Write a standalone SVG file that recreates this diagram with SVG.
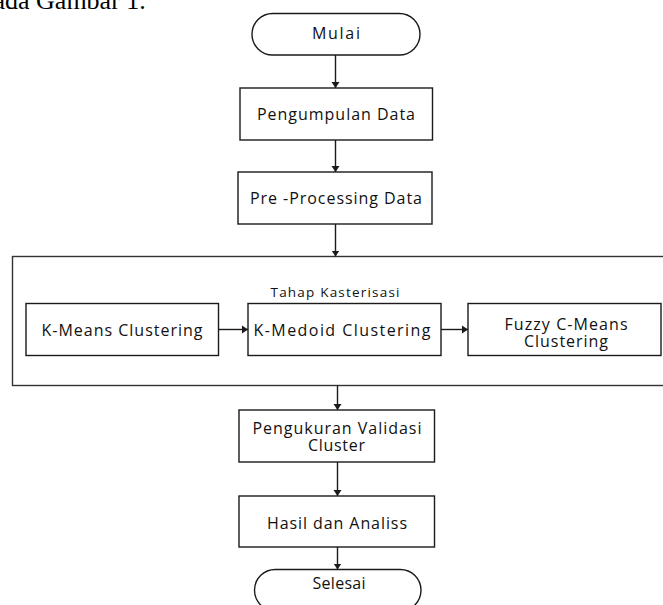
<svg xmlns="http://www.w3.org/2000/svg" width="663" height="605" viewBox="0 0 663 605">
  <style>
    .box { fill: #ffffff; stroke: #1a1a1a; stroke-width: 1.4; }
    .cont { fill: none; stroke: #333333; stroke-width: 1.4; }
    .lbl { font-family: "Open Sans", "Liberation Sans", sans-serif; font-size: 16px; fill: #111111; text-anchor: middle; }
    .small { font-size: 13.5px; }
    .conn { stroke: #1a1a1a; stroke-width: 1.4; fill: none; marker-end: url(#arr); }
    .top { font-family: "Liberation Serif", "Times New Roman", serif; font-size: 26px; fill: #000000; }
  </style>
  <defs>
    <marker id="arr" markerUnits="userSpaceOnUse" markerWidth="7" markerHeight="9" refX="6" refY="4" orient="auto" viewBox="0 0 7 8">
      <path d="M0,0 L6,4 L0,8 z" fill="#1a1a1a"/>
    </marker>
  </defs>
  <rect width="663" height="605" fill="#ffffff"/>
  <text class="top" x="-6.5" y="8.5">ada Gambar 1.</text>

  <g id="container">
    <rect class="cont" x="12.5" y="256.5" width="700" height="129"/>
    <text class="lbl small" x="335" y="296.5" textLength="129" lengthAdjust="spacing">Tahap Kasterisasi</text>
  </g>

  <g id="mulai">
    <rect class="box" x="252" y="13.5" width="168" height="41.5" rx="20.75"/>
    <text class="lbl" x="336" y="39" textLength="48" lengthAdjust="spacing">Mulai</text>
  </g>
  <g id="pengumpulan">
    <rect class="box" x="240" y="88" width="192.5" height="52"/>
    <text class="lbl" x="336" y="119.5" textLength="158" lengthAdjust="spacing">Pengumpulan Data</text>
  </g>
  <g id="preprocessing">
    <rect class="box" x="238" y="172" width="194" height="52"/>
    <text class="lbl" x="336" y="203.5" textLength="172" lengthAdjust="spacing">Pre -Processing Data</text>
  </g>
  <g id="kmeans">
    <rect class="box" x="26" y="303.5" width="192.5" height="52"/>
    <text class="lbl" x="122" y="335.5" textLength="161" lengthAdjust="spacing">K-Means Clustering</text>
  </g>
  <g id="kmedoid">
    <rect class="box" x="248" y="303.5" width="193" height="52"/>
    <text class="lbl" x="342" y="335.5" textLength="177" lengthAdjust="spacing">K-Medoid Clustering</text>
  </g>
  <g id="fuzzy">
    <rect class="box" x="468" y="303.5" width="193" height="52"/>
    <text class="lbl" x="566" y="329.5" textLength="123" lengthAdjust="spacing">Fuzzy C-Means</text>
    <text class="lbl" x="566" y="347" textLength="84" lengthAdjust="spacing">Clustering</text>
  </g>
  <g id="pengukuran">
    <rect class="box" x="239" y="410" width="195.5" height="52"/>
    <text class="lbl" x="337" y="433.5" textLength="169" lengthAdjust="spacing">Pengukuran Validasi</text>
    <text class="lbl" x="336.5" y="451" textLength="57" lengthAdjust="spacing">Cluster</text>
  </g>
  <g id="hasil">
    <rect class="box" x="239" y="496" width="195.5" height="51"/>
    <text class="lbl" x="337" y="529" textLength="140" lengthAdjust="spacing">Hasil dan Analiss</text>
  </g>
  <g id="selesai">
    <rect class="box" x="254.5" y="569.5" width="166.5" height="41.5" rx="20.75"/>
    <text class="lbl" x="339" y="588.5" textLength="53" lengthAdjust="spacing">Selesai</text>
  </g>

  <g id="connectors">
    <line class="conn" x1="335.5" y1="55" x2="335.5" y2="88"/>
    <line class="conn" x1="335.5" y1="140" x2="335.5" y2="172"/>
    <line class="conn" x1="335.5" y1="224" x2="335.5" y2="256.5"/>
    <line class="conn" x1="218.5" y1="329.5" x2="248" y2="329.5"/>
    <line class="conn" x1="441" y1="329.5" x2="468" y2="329.5"/>
    <line class="conn" x1="337.5" y1="385.5" x2="337.5" y2="410"/>
    <line class="conn" x1="337.5" y1="462" x2="337.5" y2="496"/>
    <line class="conn" x1="337.5" y1="547" x2="337.5" y2="569.5"/>
  </g>
</svg>
